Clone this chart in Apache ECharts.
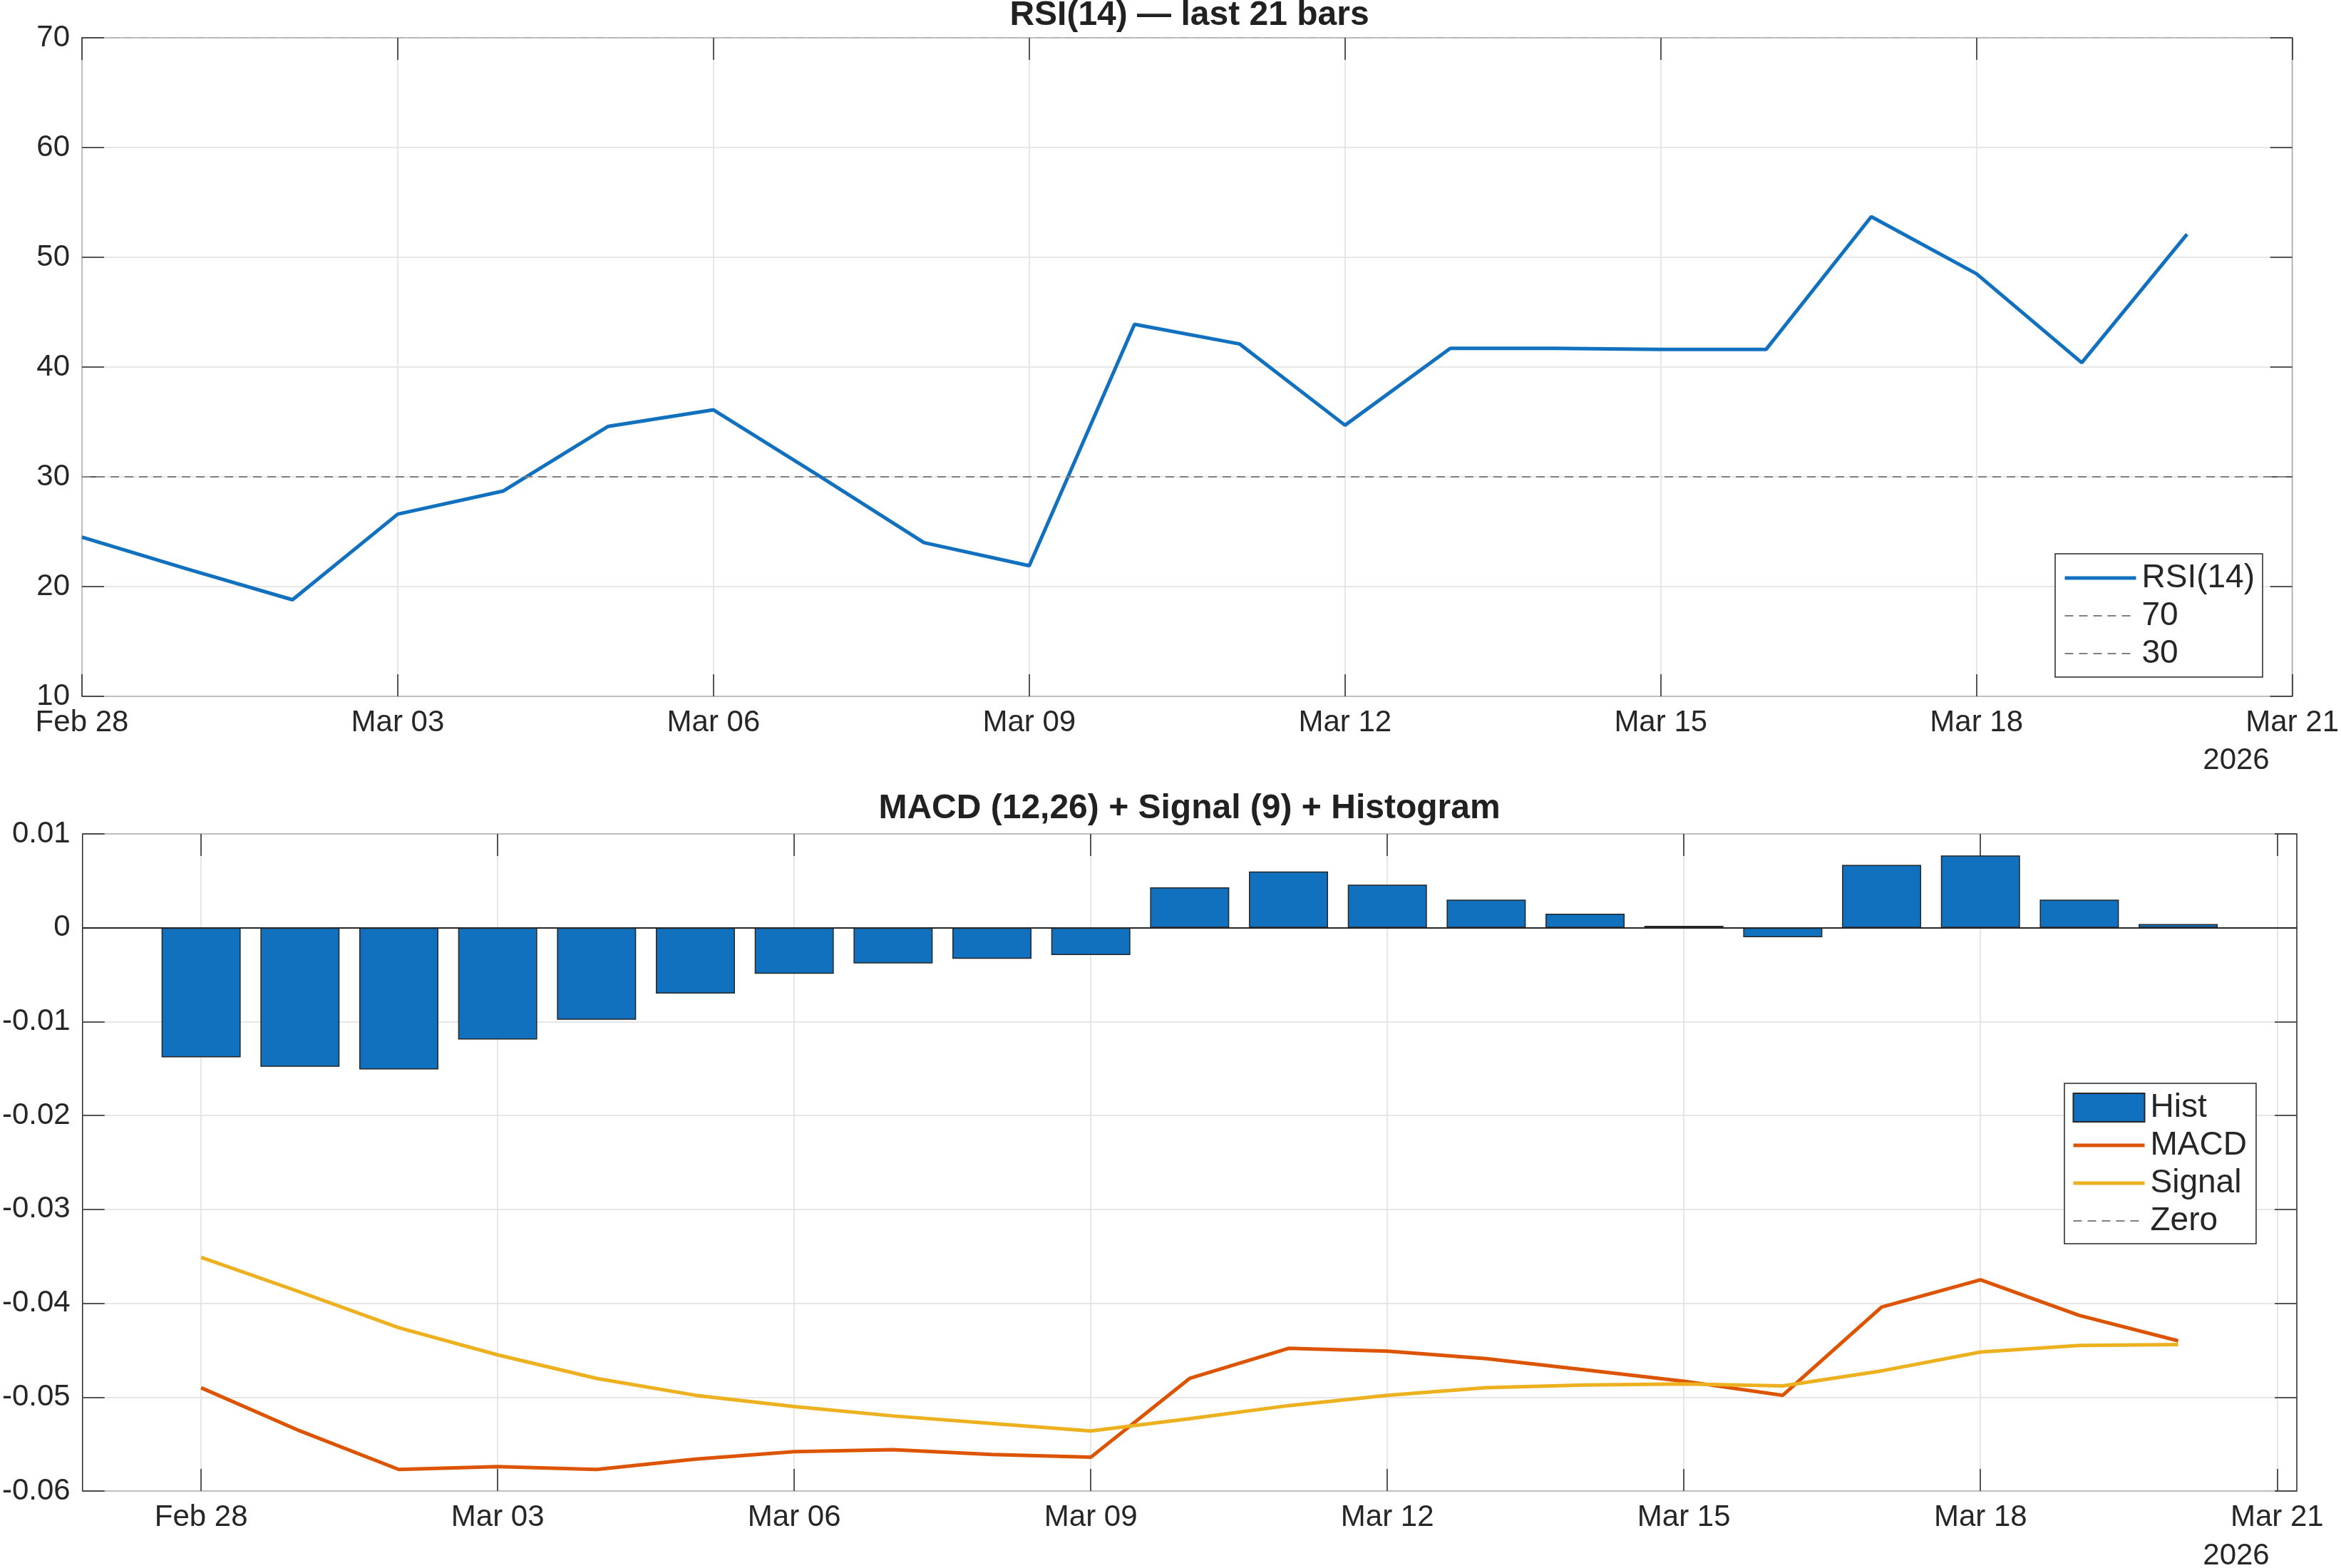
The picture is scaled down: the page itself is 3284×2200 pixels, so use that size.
<!DOCTYPE html>
<html>
<head>
<meta charset="utf-8">
<title>RSI / MACD</title>
<script src="https://cdn.jsdelivr.net/npm/echarts@6/dist/echarts.min.js"></script>
<style>
html, body { margin: 0; padding: 0; background: #fff; }
#main { width: 3284px; height: 2200px; }
</style>
</head>
<body>
<div id="main"></div>
<script>
// last 21 daily bars
var dates = ['Feb 28', 'Mar 01', 'Mar 02', 'Mar 03', 'Mar 04', 'Mar 05', 'Mar 06', 'Mar 07',
  'Mar 08', 'Mar 09', 'Mar 10', 'Mar 11', 'Mar 12', 'Mar 13', 'Mar 14', 'Mar 15', 'Mar 16',
  'Mar 17', 'Mar 18', 'Mar 19', 'Mar 20'];
var rsi = [24.5, 21.6, 18.8, 26.6, 28.7, 34.6, 36.1, 30.1, 24.0, 21.9, 43.9,
  42.1, 34.7, 41.7, 41.7, 41.6, 41.6, 53.7, 48.5, 40.4, 52.1];
var rsiLevels = [70, 30];
var hist = [-0.0138, -0.0148, -0.0151, -0.0119, -0.0098, -0.0070, -0.0049, -0.0038, -0.0033,
  -0.0029, 0.0043, 0.0060, 0.0046, 0.0030, 0.0015, 0.0002, -0.0010, 0.0067, 0.0077, 0.0030, 0.0004];
var macd = [-0.0490, -0.0536, -0.0577, -0.0574, -0.0577, -0.0566, -0.0558, -0.0556, -0.0561,
  -0.0564, -0.0480, -0.0448, -0.0451, -0.0459, -0.0471, -0.0483, -0.0498, -0.0404, -0.0375, -0.0413, -0.0440];
var signal = [-0.0351, -0.0388, -0.0426, -0.0455, -0.0480, -0.0498, -0.0510, -0.0520, -0.0528,
  -0.0536, -0.0523, -0.0509, -0.0498, -0.0490, -0.0487, -0.0486, -0.0488, -0.0472, -0.0452, -0.0445, -0.0444];
var tickDays = [0, 3, 6, 9, 12, 15, 18, 21];
var tickLabels = ['Feb 28', 'Mar 03', 'Mar 06', 'Mar 09', 'Mar 12', 'Mar 15', 'Mar 18', 'Mar 21'];
var yearLabel = '2026';

var myChart = echarts.init(document.getElementById('main'));

var axisColor = '#262626';
var gridColor = '#DFDFDF';
var refColor = '#808080';
var font = '"Liberation Sans", Arial, Helvetica, sans-serif';
var gridLeft = 115, gridWidth = 3107;
var botMin = -1.2, botMax = 21.2;

function pts(vals) {
    return vals.map(function (v, i) { return [i, v]; });
}

function xPair(gridIndex, min, max) {
    var tick = { inside: true, length: 31, customValues: tickDays, lineStyle: { color: axisColor, width: 1.5 } };
    return [{
        type: 'value', gridIndex: gridIndex, min: min, max: max, position: 'bottom',
        axisLine: { show: false, onZero: false },
        axisTick: tick,
        axisLabel: {
            customValues: tickDays, margin: 16, fontSize: 42, color: axisColor, fontFamily: font,
            formatter: function (v) { return tickLabels[tickDays.indexOf(Math.round(v))]; }
        },
        splitLine: { show: true, lineStyle: { color: gridColor, width: 1.5 } }
    }, {
        type: 'value', gridIndex: gridIndex, min: min, max: max, position: 'top',
        axisLine: { show: false, onZero: false }, axisTick: tick,
        axisLabel: { show: false }, splitLine: { show: false }
    }];
}

function yPair(gridIndex, min, max, interval) {
    var tick = { inside: true, length: 31, lineStyle: { color: axisColor, width: 1.5 } };
    return [{
        type: 'value', gridIndex: gridIndex, min: min, max: max, interval: interval, position: 'left',
        axisLine: { show: false, onZero: false }, axisTick: tick,
        axisLabel: { margin: 17, fontSize: 42, color: axisColor, fontFamily: font },
        splitLine: { show: true, lineStyle: { color: gridColor, width: 1.5 } }
    }, {
        type: 'value', gridIndex: gridIndex, min: min, max: max, interval: interval, position: 'right',
        axisLine: { show: false, onZero: false }, axisTick: tick,
        axisLabel: { show: false }, splitLine: { show: false }
    }];
}

function hLine(value, color, type, width, z) {
    return {
        symbol: 'none', silent: true, z: z, label: { show: false },
        lineStyle: { color: color, type: type, width: width },
        data: [{ yAxis: value }]
    };
}

// legend entries: solid lines drawn thick, dashed reference lines thin, no centre marker
function lineItem(name, width) {
    return { name: name, itemStyle: { opacity: 0 }, lineStyle: { width: width } };
}

var legendText = { fontSize: 46, fontFamily: font, color: axisColor, lineHeight: 40, padding: [0, 0, 0, 3] };

option = {
    animation: false,
    backgroundColor: '#fff',
    grid: [
        { left: gridLeft, top: 53, width: gridWidth, height: 924, show: true, borderColor: axisColor, borderWidth: 1.5 },
        { left: gridLeft, top: 1170, width: gridWidth, height: 922, show: true, borderColor: axisColor, borderWidth: 1.5 }
    ],
    xAxis: xPair(0, 0, 21).concat(xPair(1, botMin, botMax)),
    yAxis: yPair(0, 10, 70, 10).concat(yPair(1, -0.06, 0.01, 0.01)),
    legend: [{
        data: [lineItem('RSI(14)', 5), lineItem('70', 2), lineItem('30', 2)],
        orient: 'vertical', left: 2883, top: 777,
        padding: [11, 11, 10, 11], itemWidth: 100, itemHeight: 40, itemGap: 7,
        borderColor: axisColor, borderWidth: 1.5, backgroundColor: '#fff',
        selectedMode: false, textStyle: legendText
    }, {
        data: [
            { name: 'Hist', icon: 'rect' },
            lineItem('MACD', 5), lineItem('Signal', 5), lineItem('Zero', 2)
        ],
        orient: 'vertical', left: 2896, top: 1520,
        padding: [11, 13, 9, 10], itemWidth: 100, itemHeight: 40, itemGap: 7,
        borderColor: axisColor, borderWidth: 1.5, backgroundColor: '#fff',
        selectedMode: false, textStyle: legendText
    }],
    graphic: [
        { type: 'text', x: gridLeft + gridWidth / 2, y: 22, style: { text: 'RSI(14) — last 21 bars', fill: '#212121', font: 'bold 48px ' + font, align: 'center', verticalAlign: 'middle' } },
        { type: 'text', x: gridLeft + gridWidth / 2, y: 1135, style: { text: 'MACD (12,26) + Signal (9) + Histogram', fill: '#212121', font: 'bold 48px ' + font, align: 'center', verticalAlign: 'middle' } },
        { type: 'text', x: 3137, y: 1067, style: { text: yearLabel, fill: axisColor, font: '42px ' + font, align: 'center', verticalAlign: 'middle' } },
        { type: 'text', x: 3137, y: 2183, style: { text: yearLabel, fill: axisColor, font: '42px ' + font, align: 'center', verticalAlign: 'middle' } }
    ],
    series: [
        {
            name: 'RSI(14)', type: 'line', xAxisIndex: 0, yAxisIndex: 0, data: pts(rsi),
            symbol: 'none', lineStyle: { color: '#1171BE', width: 5 }, itemStyle: { color: '#1171BE' }
        },
        {
            name: '70', type: 'line', xAxisIndex: 0, yAxisIndex: 0, data: [], symbol: 'none', z: -1,
            lineStyle: { color: refColor, type: [12, 8], width: 2 }, itemStyle: { color: refColor },
            markLine: hLine(rsiLevels[0], refColor, [12, 8], 2, -1)
        },
        {
            name: '30', type: 'line', xAxisIndex: 0, yAxisIndex: 0, data: [], symbol: 'none',
            lineStyle: { color: refColor, type: [12, 8], width: 2 }, itemStyle: { color: refColor },
            markLine: hLine(rsiLevels[1], refColor, [12, 8], 2, 5)
        },
        {
            name: 'Hist', type: 'bar', xAxisIndex: 2, yAxisIndex: 2, data: pts(hist),
            barWidth: 0.8 * gridWidth / (botMax - botMin),
            itemStyle: { color: '#1171BE', borderColor: axisColor, borderWidth: 1.5 },
            markLine: hLine(0, axisColor, 'solid', 2, 7)
        },
        {
            name: 'MACD', type: 'line', xAxisIndex: 2, yAxisIndex: 2, data: pts(macd),
            symbol: 'none', lineStyle: { color: '#DD5400', width: 5 }, itemStyle: { color: '#DD5400' }
        },
        {
            name: 'Signal', type: 'line', xAxisIndex: 2, yAxisIndex: 2, data: pts(signal),
            symbol: 'none', lineStyle: { color: '#EDB120', width: 5 }, itemStyle: { color: '#EDB120' }
        },
        {
            name: 'Zero', type: 'line', xAxisIndex: 2, yAxisIndex: 2, data: [], symbol: 'none',
            lineStyle: { color: refColor, type: [12, 8], width: 2 }, itemStyle: { color: refColor },
            markLine: hLine(0, refColor, [12, 8], 2, 4)
        }
    ]
};
myChart.setOption(option);
</script>
</body>
</html>
